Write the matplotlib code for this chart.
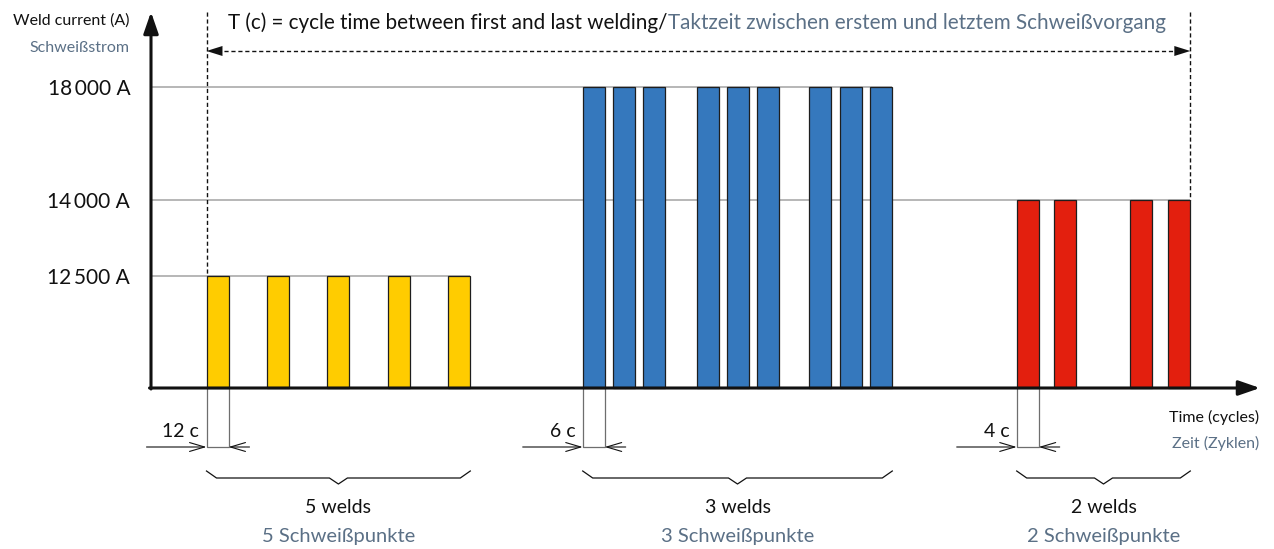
import numpy as np
import matplotlib.pyplot as plt

plt.rcParams["font.family"] = ["Lato", "DejaVu Sans"]

INK = "#111111"
DE_TEXT = "#5b7086"
GRID = "#a3a3a3"
DIM = "#6e6e6e"

# weld programmes: pulse starts on the schematic time axis
YELLOW_STARTS = [5.55, 11.57, 17.63, 23.67, 29.73]
BLUE_STARTS = [43.17, 46.23, 49.23, 54.57, 57.57, 60.57, 65.83, 68.90, 71.93]
RED_STARTS = [86.57, 90.33, 97.93, 101.73]
PULSE_WIDTH = 2.2

GROUP_STARTS = [YELLOW_STARTS, BLUE_STARTS, RED_STARTS]
GROUP_CURRENT = [12500, 18000, 14000]
GROUP_COLORS = ["#ffcc00", "#3578bd", "#e31f0e"]
WELD_CYCLES = ["12 c", "6 c", "4 c"]
WELD_LABELS = ["5 welds", "3 welds", "2 welds"]
WELD_LABELS_DE = ["5 Schweißpunkte", "3 Schweißpunkte", "2 Schweißpunkte"]

TICK_CURRENTS = [12500, 14000, 18000]
TICK_LABELS = ["12\u2009500 A", "14\u2009000 A", "18\u2009000 A"]

# current axis is not to scale: each level gets its own drawn height
SCALE_CURRENT = [-20000, 0, 12500, 14000, 18000, 30000]
SCALE_HEIGHT = [-179, 0, 112, 188, 301, 640]


def fwd(v):
    return np.interp(v, SCALE_CURRENT, SCALE_HEIGHT)


def inv(h):
    return np.interp(h, SCALE_HEIGHT, SCALE_CURRENT)


def at_h(h):
    # current value that sits h drawn units above the time axis
    return float(inv(h))


fig = plt.figure(figsize=(12.74, 5.49), dpi=100)
ax = fig.add_axes([0, 0, 1, 1])
ax.set_yscale("function", functions=(fwd, inv))
ax.set_xlim(-15.1, 112.3)
ax.set_ylim(at_h(-161), at_h(388))
for s in ax.spines.values():
    s.set_visible(False)
ax.spines["left"].set_position(("data", 0))
ax.set_xticks([])
ax.set_yticks(TICK_CURRENTS, TICK_LABELS)
ax.tick_params(axis="y", length=0, pad=15, labelsize=15, labelcolor=INK)
ax.yaxis.set_minor_locator(plt.NullLocator())

# level lines and weld pulses
for starts, cur, col in zip(GROUP_STARTS, GROUP_CURRENT, GROUP_COLORS):
    ax.hlines(cur, 0, starts[-1] + PULSE_WIDTH, color=GRID, lw=1.1, zorder=1)
    ax.bar(starts, [cur] * len(starts), width=PULSE_WIDTH, align="edge",
           color=col, edgecolor="#1e1e1e", linewidth=0.9, zorder=3)

# axes with arrow heads
axis_arrow = dict(arrowstyle="-|>,head_length=1.3,head_width=0.45",
                  color=INK, lw=2.2, shrinkA=0, shrinkB=0)
ax.annotate("", xy=(0, at_h(376)), xytext=(0, at_h(-1)), arrowprops=axis_arrow, zorder=5)
ax.annotate("", xy=(110.9, 0), xytext=(-0.15, 0), arrowprops=axis_arrow, zorder=5)

# cycle time T between first and last weld
t0 = YELLOW_STARTS[0]
t1 = RED_STARTS[-1] + PULSE_WIDTH
ax.plot([t0, t0], [at_h(376), GROUP_CURRENT[0]], color=INK, lw=1.0, ls=(0, (3, 2)), zorder=2)
ax.plot([t1, t1], [at_h(376), GROUP_CURRENT[2]], color=INK, lw=1.0, ls=(0, (3, 2)), zorder=2)
yt = at_h(337)
ax.plot([t0 + 1.0, t1 - 1.0], [yt, yt], color=INK, lw=1.0, ls=(0, (3, 2)))
head = dict(arrowstyle="-|>,head_length=1.15,head_width=0.36", color=INK, lw=0,
            shrinkA=0, shrinkB=0)
ax.annotate("", xy=(t0, yt), xytext=(t0 + 2.0, yt), arrowprops=head)
ax.annotate("", xy=(t1, yt), xytext=(t1 - 2.0, yt), arrowprops=head)

title = ax.text(7.7, at_h(359), "T (c) = cycle time between first and last welding/",
                fontsize=14.9, color=INK, va="baseline", ha="left")
ax.annotate("Taktzeit zwischen erstem und letztem Schweißvorgang", xy=(1, 0),
            xycoords=title, va="bottom", ha="left", fontsize=14.9, color=DE_TEXT)

# axis titles
ax.text(-2.15, at_h(363), "Weld current (A)", fontsize=11.5, color=INK, ha="right", va="baseline")
ax.text(-2.15, at_h(336), "Schweißstrom", fontsize=11.5, color=DE_TEXT, ha="right", va="baseline")
ax.text(110.8, at_h(-34), "Time (cycles)", fontsize=11.5, color=INK, ha="right", va="baseline")
ax.text(110.8, at_h(-60), "Zeit (Zyklen)", fontsize=11.5, color=DE_TEXT, ha="right", va="baseline")

# weld duration dimensions and group braces
open_head = dict(arrowstyle="->,head_length=1.08,head_width=0.32", color=INK, lw=0.8,
                 shrinkA=0, shrinkB=0)
yd = at_h(-59)
for i, starts in enumerate(GROUP_STARTS):
    a = starts[0]
    b = a + PULSE_WIDTH
    ax.plot([a, a, b, b], [0, yd, yd, 0], color=DIM, lw=0.9, zorder=2)
    ax.annotate("", xy=(a, yd), xytext=(a - 6.0, yd), arrowprops=open_head)
    ax.annotate("", xy=(b, yd), xytext=(b + 2.1, yd), arrowprops=open_head)
    ax.text(a - 0.75, at_h(-49), WELD_CYCLES[i], fontsize=14, color=INK,
            ha="right", va="baseline")

    end = starts[-1] + PULSE_WIDTH
    mid = (a + end) / 2
    bx = [a, a + 1.0, mid - 0.9, mid, mid + 0.9, end - 1.0, end]
    by = [at_h(h) for h in (-83, -90, -90, -96, -90, -90, -83)]
    ax.plot(bx, by, color=INK, lw=0.9)
    ax.text(mid, at_h(-125), WELD_LABELS[i], fontsize=14, color=INK,
            ha="center", va="baseline")
    ax.text(mid, at_h(-154), WELD_LABELS_DE[i], fontsize=14.5, color=DE_TEXT,
            ha="center", va="baseline")

fig.savefig("out.png", dpi=100)
